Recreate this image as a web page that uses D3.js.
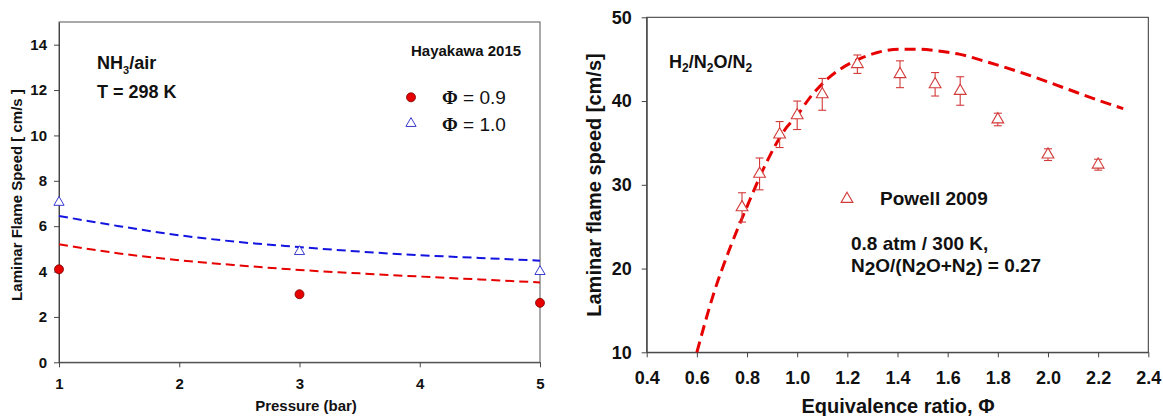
<!DOCTYPE html>
<html>
<head>
<meta charset="utf-8">
<script src="https://cdn.jsdelivr.net/npm/d3@7"></script>
<style>
    body { margin: 0; background: #fff; }
    svg { display: block; }
    .axis text { font-family: "Liberation Sans", Arial, sans-serif; font-weight: bold; fill: #111; }
    .axis path, .axis line { stroke: #444; }
    .lbl { font-family: "Liberation Sans", Arial, sans-serif; font-weight: bold; fill: #111; }
</style>
</head>
<body>
<div class="canvas"></div>

<script>

    // ---- left panel data (Hayakawa 2015, NH3/air) ----
    const pressure = [1, 3, 5];
    const speedPhi09 = [4.1, 3.0, 2.62];
    const speedPhi10 = [7.05, 4.88, 4.0];
    const modelPressure = [1, 1.5, 2, 2.5, 3, 3.5, 4, 4.5, 5];
    const modelPhi09 = [5.2, 4.8, 4.5, 4.27, 4.07, 3.92, 3.78, 3.65, 3.52];
    const modelPhi10 = [6.45, 6.0, 5.6, 5.3, 5.08, 4.88, 4.72, 4.6, 4.48];
    const leftXTicks = [1, 2, 3, 4, 5];
    const leftYTicks = [0, 2, 4, 6, 8, 10, 12, 14];

    // ---- right panel data (Powell 2009, H2/N2O/N2) ----
    const powellPhi = [0.78, 0.85, 0.93, 1.0, 1.1, 1.24, 1.41, 1.55, 1.65, 1.8, 2.0, 2.2];
    const powellSpeed = [27.3, 31.3, 36.0, 38.3, 40.8, 44.4, 43.2, 42.0, 41.2, 37.8, 33.6, 32.4];
    const powellErr = [1.75, 1.9, 1.55, 1.7, 1.9, 1.1, 1.6, 1.4, 1.7, 0.75, 0.7, 0.65];
    const modelPhi = [0.6, 0.667, 0.734, 0.8, 0.875, 0.949, 1.0, 1.053, 1.112, 1.171, 1.246, 1.32, 1.409, 1.483, 1.557, 1.646, 1.765, 1.913, 2.062, 2.21, 2.3];
    const modelSpeed = [10, 17.0, 22.6, 27.4, 32.5, 36.5, 38.3, 40.5, 42.4, 43.8, 45.0, 45.8, 46.2, 46.2, 46.0, 45.6, 44.6, 43.2, 41.6, 40.0, 39.1];
    const rightXTicks = [0.4, 0.6, 0.8, 1.0, 1.2, 1.4, 1.6, 1.8, 2.0, 2.2, 2.4];
    const rightYTicks = [10, 20, 30, 40, 50];

    (function () {
        const width = 1163;
        const height = 416;
        const RED = "#e60000";
        const BLUE = "#1414e0";

        const svg = d3.select(".canvas").append("svg")
            .attr("width", width)
            .attr("height", height);

        // ================= left panel =================
        const x1 = d3.scaleLinear().domain([1, 5]).range([59, 540]);
        const y1 = d3.scaleLinear().domain([0, 15]).range([362.3, 22]);

        const left = svg.append("g");

        left.append("rect")
            .attr("x", x1(1)).attr("y", y1(15))
            .attr("width", x1(5) - x1(1)).attr("height", y1(0) - y1(15))
            .attr("fill", "none").attr("stroke", "#555").attr("stroke-width", 1);

        left.append("g")
            .attr("class", "axis")
            .attr("transform", "translate(0," + y1(0) + ")")
            .call(d3.axisBottom(x1).tickValues(leftXTicks).tickFormat(d3.format("d"))
                .tickSize(5).tickSizeOuter(0).tickPadding(11))
            .call(g => g.selectAll("text").style("font-size", "15px"));

        left.append("g")
            .attr("class", "axis")
            .attr("transform", "translate(" + x1(1) + ",0)")
            .call(d3.axisLeft(y1).tickValues(leftYTicks).tickFormat(d3.format("d"))
                .tickSize(5).tickSizeOuter(0).tickPadding(7))
            .call(g => g.selectAll("text").style("font-size", "15px"));

        const line1 = d3.line()
            .x(d => x1(d[0]))
            .y(d => y1(d[1]))
            .curve(d3.curveMonotoneX);

        left.append("path")
            .datum(d3.zip(modelPressure, modelPhi10))
            .attr("d", line1)
            .attr("fill", "none").attr("stroke", BLUE)
            .attr("stroke-width", 2).attr("stroke-dasharray", "9,5");

        left.append("path")
            .datum(d3.zip(modelPressure, modelPhi09))
            .attr("d", line1)
            .attr("fill", "none").attr("stroke", RED)
            .attr("stroke-width", 2).attr("stroke-dasharray", "9,5");

        const tri = d3.symbol().type(d3.symbolTriangle);

        left.selectAll("circle.p09")
            .data(d3.zip(pressure, speedPhi09))
            .enter().append("circle")
            .attr("class", "p09")
            .attr("cx", d => x1(d[0])).attr("cy", d => y1(d[1]))
            .attr("r", 4.5)
            .attr("fill", RED).attr("stroke", "#7a0000").attr("stroke-width", 0.8);

        left.selectAll("path.p10")
            .data(d3.zip(pressure, speedPhi10))
            .enter().append("path")
            .attr("class", "p10")
            .attr("d", tri.size(45))
            .attr("transform", d => "translate(" + x1(d[0]) + "," + y1(d[1]) + ")")
            .attr("fill", "#fff").attr("stroke", "#3a3ad0").attr("stroke-width", 1);

        // axis titles
        left.append("text").attr("class", "lbl")
            .attr("x", 306).attr("y", 411)
            .attr("text-anchor", "middle").style("font-size", "15px")
            .text("Pressure (bar)");

        left.append("text").attr("class", "lbl")
            .attr("transform", "translate(22,195) rotate(-90)")
            .attr("text-anchor", "middle").style("font-size", "15px")
            .text("Laminar Flame Speed [ cm/s ]");

        // annotations
        const nh3 = left.append("text").attr("class", "lbl")
            .attr("x", 97).attr("y", 69).style("font-size", "18px");
        nh3.append("tspan").text("NH");
        nh3.append("tspan").attr("dy", 5).style("font-size", "11px").text("3");
        nh3.append("tspan").attr("dy", -5).text("/air");

        left.append("text").attr("class", "lbl")
            .attr("x", 97).attr("y", 98).style("font-size", "18px")
            .text("T = 298 K");

        left.append("text").attr("class", "lbl")
            .attr("x", 411).attr("y", 56).style("font-size", "15px")
            .text("Hayakawa 2015");

        left.append("circle")
            .attr("cx", 411).attr("cy", 97.3).attr("r", 4.5)
            .attr("fill", RED).attr("stroke", "#7a0000").attr("stroke-width", 0.8);
        left.append("path")
            .attr("d", tri.size(45))
            .attr("transform", "translate(411,123.5)")
            .attr("fill", "#fff").attr("stroke", "#3a3ad0").attr("stroke-width", 1);

        [["0.9", 104], ["1.0", 131]].forEach(function (l) {
            const t = left.append("text")
                .attr("x", 442).attr("y", l[1])
                .style("font-size", "19px")
                .style("font-family", "Liberation Sans, Arial, sans-serif")
                .attr("fill", "#111");
            t.append("tspan")
                .style("font-family", "Liberation Serif, Times New Roman, serif")
                .style("font-weight", "bold").text("Φ");
            t.append("tspan").text(" = " + l[0]);
        });

        // ================= right panel =================
        const x2 = d3.scaleLinear().domain([0.4, 2.4]).range([646.7, 1148.3]);
        const y2 = d3.scaleLinear().domain([10, 50]).range([352.3, 17.3]);

        const right = svg.append("g");

        right.append("rect")
            .attr("x", x2(0.4)).attr("y", y2(50))
            .attr("width", x2(2.4) - x2(0.4)).attr("height", y2(10) - y2(50))
            .attr("fill", "none").attr("stroke", "#333").attr("stroke-width", 1);

        right.append("g")
            .attr("class", "axis")
            .attr("transform", "translate(0," + y2(10) + ")")
            .call(d3.axisBottom(x2).tickValues(rightXTicks).tickFormat(d3.format(".1f"))
                .tickSize(5).tickSizeOuter(0).tickPadding(14))
            .call(g => g.selectAll("text").style("font-size", "18px"));

        right.append("g")
            .attr("class", "axis")
            .attr("transform", "translate(" + x2(0.4) + ",0)")
            .call(d3.axisLeft(y2).tickValues(rightYTicks).tickFormat(d3.format("d"))
                .tickSize(5).tickSizeOuter(0).tickPadding(10))
            .call(g => g.selectAll("text").style("font-size", "18px"));

        const line2 = d3.line()
            .x(d => x2(d[0]))
            .y(d => y2(d[1]))
            .curve(d3.curveMonotoneX);

        right.append("path")
            .datum(d3.zip(modelPhi, modelSpeed))
            .attr("d", line2)
            .attr("fill", "none").attr("stroke", RED)
            .attr("stroke-width", 3).attr("stroke-dasharray", "11,6");

        const pts = d3.range(powellPhi.length).map(i => ({
            x: powellPhi[i], y: powellSpeed[i], e: powellErr[i]
        }));

        const ebar = right.selectAll("g.eb").data(pts).enter().append("g").attr("class", "eb")
            .attr("stroke", "#d33a3a").attr("stroke-width", 1.1).attr("fill", "none");
        ebar.append("line")
            .attr("x1", d => x2(d.x)).attr("x2", d => x2(d.x))
            .attr("y1", d => y2(d.y + d.e)).attr("y2", d => y2(d.y - d.e));
        ebar.append("line")
            .attr("x1", d => x2(d.x) - 4).attr("x2", d => x2(d.x) + 4)
            .attr("y1", d => y2(d.y + d.e)).attr("y2", d => y2(d.y + d.e));
        ebar.append("line")
            .attr("x1", d => x2(d.x) - 4).attr("x2", d => x2(d.x) + 4)
            .attr("y1", d => y2(d.y - d.e)).attr("y2", d => y2(d.y - d.e));

        right.selectAll("path.pw").data(pts).enter().append("path")
            .attr("class", "pw")
            .attr("d", tri.size(60))
            .attr("transform", d => "translate(" + x2(d.x) + "," + y2(d.y) + ")")
            .attr("fill", "#fff").attr("stroke", "#d33a3a").attr("stroke-width", 1.1);

        // axis titles
        right.append("text").attr("class", "lbl")
            .attr("x", 898).attr("y", 413)
            .attr("text-anchor", "middle").style("font-size", "20px")
            .text("Equivalence ratio, Φ");

        right.append("text").attr("class", "lbl")
            .attr("transform", "translate(601,185) rotate(-90)")
            .attr("text-anchor", "middle").style("font-size", "20px")
            .text("Laminar flame speed [cm/s]");

        // annotations
        const h2 = right.append("text").attr("class", "lbl")
            .attr("x", 669).attr("y", 68).style("font-size", "18px");
        h2.append("tspan").text("H");
        h2.append("tspan").attr("dy", 4).style("font-size", "12px").text("2");
        h2.append("tspan").attr("dy", -4).text("/N");
        h2.append("tspan").attr("dy", 4).style("font-size", "12px").text("2");
        h2.append("tspan").attr("dy", -4).text("O/N");
        h2.append("tspan").attr("dy", 4).style("font-size", "12px").text("2");

        right.append("path")
            .attr("d", tri.size(60))
            .attr("transform", "translate(847,199)")
            .attr("fill", "#fff").attr("stroke", "#d33a3a").attr("stroke-width", 1.1);

        right.append("text").attr("class", "lbl")
            .attr("x", 880).attr("y", 205).style("font-size", "19px")
            .text("Powell 2009");

        right.append("text").attr("class", "lbl")
            .attr("x", 851).attr("y", 250).style("font-size", "19px")
            .text("0.8 atm / 300 K,");

        const n2o = right.append("text").attr("class", "lbl")
            .attr("x", 851).attr("y", 272).style("font-size", "19px");
        n2o.append("tspan").text("N");
        n2o.append("tspan").attr("dy", 3).text("2");
        n2o.append("tspan").attr("dy", -3).text("O/(N");
        n2o.append("tspan").attr("dy", 3).text("2");
        n2o.append("tspan").attr("dy", -3).text("O+N");
        n2o.append("tspan").attr("dy", 3).text("2");
        n2o.append("tspan").attr("dy", -3).text(") = 0.27");
    })()

</script>
</body>
</html>
